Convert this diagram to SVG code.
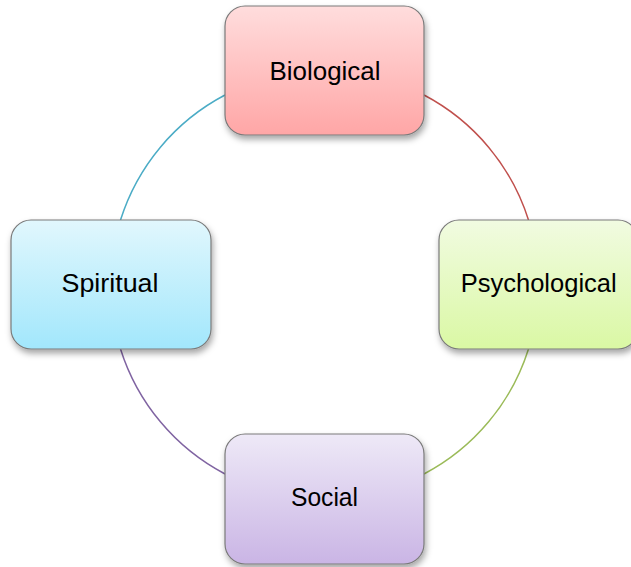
<svg xmlns="http://www.w3.org/2000/svg" width="631" height="567" viewBox="0 0 631 567">
<style>
.node rect{stroke:#7a7a7a;stroke-width:1.2;filter:url(#sh)}
.node text{font-family:"Liberation Sans",Arial,sans-serif;font-size:25px;fill:#000;text-anchor:middle}
.arc{fill:none;stroke-width:1.5}
</style>
<defs>
<filter id="sh" x="-10%" y="-10%" width="125%" height="130%">
<feDropShadow dx="1.5" dy="4" stdDeviation="3" flood-color="#000" flood-opacity="0.35"/>
</filter>
<linearGradient id="gBio" x1="0" y1="0" x2="0" y2="1"><stop offset="0" stop-color="#FFDDDD"/><stop offset="1" stop-color="#FFA6A6"/></linearGradient>
<linearGradient id="gPsy" x1="0" y1="0" x2="0" y2="1"><stop offset="0" stop-color="#F1FBE1"/><stop offset="1" stop-color="#DAF8A4"/></linearGradient>
<linearGradient id="gSpi" x1="0" y1="0" x2="0" y2="1"><stop offset="0" stop-color="#E1F7FD"/><stop offset="1" stop-color="#A2E7FC"/></linearGradient>
<linearGradient id="gSoc" x1="0" y1="0" x2="0" y2="1"><stop offset="0" stop-color="#EEE9F7"/><stop offset="1" stop-color="#CAB5E5"/></linearGradient>
</defs>
<rect width="631" height="567" fill="#fff"/>
<g id="connectors">
<path class="arc" stroke="#C0504D" d="M424,95 A214,214 0 0 1 528.5,220"/>
<path class="arc" stroke="#9BBB59" d="M528.5,349 A214,214 0 0 1 424,474"/>
<path class="arc" stroke="#8064A2" d="M225,474 A214,214 0 0 1 120.5,349"/>
<path class="arc" stroke="#4BACC6" d="M120.5,220 A214,214 0 0 1 225,95"/>
</g>
<g id="biological" class="node">
<rect x="225" y="6" width="199" height="129" rx="20" fill="url(#gBio)"/>
<text x="325" y="79.5" textLength="111" lengthAdjust="spacingAndGlyphs">Biological</text>
</g>
<g id="psychological" class="node">
<rect x="439" y="220" width="199" height="129" rx="20" fill="url(#gPsy)"/>
<text x="538.7" y="291.7" textLength="156" lengthAdjust="spacingAndGlyphs">Psychological</text>
</g>
<g id="spiritual" class="node">
<rect x="11" y="220" width="200" height="129" rx="20" fill="url(#gSpi)"/>
<text x="110" y="291.7" textLength="97" lengthAdjust="spacingAndGlyphs">Spiritual</text>
</g>
<g id="social" class="node">
<rect x="225" y="434" width="199" height="130" rx="20" fill="url(#gSoc)"/>
<text x="324.5" y="506" textLength="67" lengthAdjust="spacingAndGlyphs">Social</text>
</g>
</svg>
